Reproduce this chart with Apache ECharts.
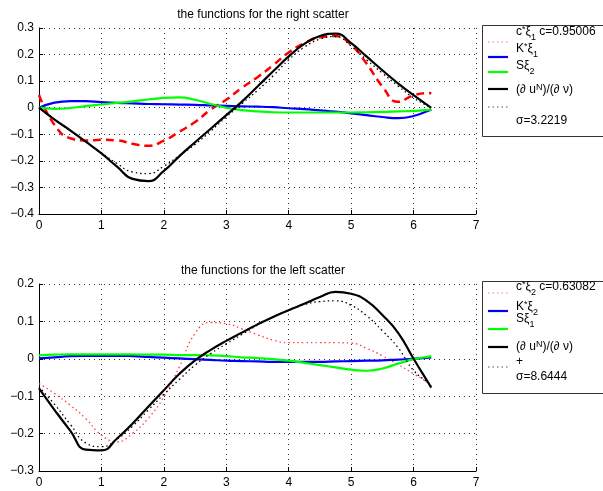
<!DOCTYPE html>
<html><head><meta charset="utf-8">
<script src="https://cdn.jsdelivr.net/npm/echarts@6/dist/echarts.min.js"></script>
<style>html,body{margin:0;padding:0;background:#fff}#c{width:603px;height:491px}</style>
</head><body><div id="c"></div>
<script>
const FF = 'Liberation Sans, Arial, Helvetica, sans-serif';
const xs = [0,0.25,0.5,0.75,1,1.25,1.5,1.75,2,2.25,2.5,2.75,3,3.25,3.5,3.75,4,4.25,4.5,4.75,5,5.25,5.5,5.75,6,6.25,6.2832];

// top panel: right scatter
const topRed    = [0.048,-0.065,-0.115,-0.123,-0.121,-0.123,-0.136,-0.143,-0.124,-0.09,-0.054,-0.007,0.03,0.075,0.115,0.16,0.208,0.243,0.265,0.27,0.236,0.165,0.08,0.022,0.047,0.055,0.053];
const topBlue   = [0,0.019,0.025,0.025,0.021,0.018,0.016,0.014,0.013,0.012,0.011,0.009,0.007,0.005,0.004,0.002,-0.002,-0.005,-0.01,-0.015,-0.021,-0.028,-0.035,-0.039,-0.031,-0.01,-0.006];
const topGreen  = [0,-0.004,-0.001,0.006,0.012,0.018,0.024,0.031,0.037,0.039,0.03,0.014,0,-0.009,-0.014,-0.017,-0.018,-0.018,-0.018,-0.018,-0.018,-0.017,-0.016,-0.014,-0.012,-0.008,-0.006];
const topBlack  = [0,-0.045,-0.085,-0.128,-0.172,-0.222,-0.268,-0.276,-0.238,-0.182,-0.13,-0.079,-0.028,0.023,0.08,0.137,0.193,0.24,0.27,0.279,0.243,0.192,0.141,0.092,0.047,0.005,0];
const topDotted = [0,-0.044,-0.086,-0.128,-0.17,-0.21,-0.242,-0.248,-0.22,-0.18,-0.138,-0.088,-0.035,0.015,0.065,0.12,0.18,0.228,0.258,0.268,0.232,0.18,0.13,0.082,0.037,0.003,0];

// bottom panel: left scatter
const botRed    = [-0.066,-0.093,-0.124,-0.16,-0.204,-0.222,-0.199,-0.159,-0.102,-0.021,0.068,0.097,0.094,0.08,0.064,0.05,0.043,0.043,0.043,0.043,0.042,0.028,0.008,-0.015,-0.04,-0.066,-0.072];
const botBlue   = [0.001,0.004,0.007,0.008,0.008,0.008,0.007,0.005,0.003,0.001,-0.001,-0.003,-0.005,-0.006,-0.007,-0.008,-0.008,-0.008,-0.008,-0.007,-0.006,-0.005,-0.004,-0.002,0,0.003,0.0035];
const botGreen  = [0.009,0.011,0.012,0.012,0.012,0.012,0.012,0.011,0.011,0.01,0.01,0.009,0.007,0.004,0.002,-0.001,-0.005,-0.011,-0.017,-0.023,-0.029,-0.032,-0.026,-0.013,-0.001,0.006,0.007];
const botBlack  = [-0.079,-0.137,-0.192,-0.243,-0.245,-0.213,-0.173,-0.128,-0.084,-0.04,-0.004,0.024,0.048,0.07,0.092,0.112,0.13,0.147,0.165,0.179,0.174,0.155,0.117,0.07,0,-0.068,-0.077];
const botDotted = [-0.075,-0.122,-0.175,-0.225,-0.235,-0.215,-0.18,-0.137,-0.095,-0.055,-0.017,0.014,0.04,0.065,0.09,0.112,0.13,0.145,0.153,0.155,0.143,0.115,0.075,0.03,-0.031,-0.066,-0.07];

const xTicks = {min:0, max:7, interval:1};
const topY = {min:-0.4, max:0.3, interval:0.1};
const botY = {min:-0.3, max:0.2, interval:0.1};

const titles = ['the functions for the right scatter','the functions for the left scatter'];

function pairs(ys){ return xs.map((x,i)=>[x, ys[i]]); }
function fmtY(v){ if (Math.abs(v) < 1e-9) return '0'; return v.toFixed(1).replace('-', '\u2212'); }

function xAx(gi){
  return {type:'value', gridIndex:gi, min:xTicks.min, max:xTicks.max, interval:xTicks.interval,
    axisLine:{show:true, onZero:false, lineStyle:{color:'#000', width:1}},
    axisTick:{show:true, inside:true, length:4, lineStyle:{color:'#000'}},
    axisLabel:{color:'#000', fontSize:12, fontFamily:FF, margin:6},
    splitLine:{show:true, lineStyle:{type:[1,4], color:'#333', width:1}}};
}
function yAx(gi, r){
  return {type:'value', gridIndex:gi, min:r.min, max:r.max, interval:r.interval,
    axisLine:{show:true, onZero:false, lineStyle:{color:'#000', width:1}},
    axisTick:{show:true, inside:true, length:4, lineStyle:{color:'#000'}},
    axisLabel:{color:'#000', fontSize:12, fontFamily:FF, margin:5, formatter:fmtY},
    splitLine:{show:true, lineStyle:{type:[1,4], color:'#333', width:1}}};
}
function ser(gi, ys, color, width, type){
  return {type:'line', xAxisIndex:gi, yAxisIndex:gi, data:pairs(ys), smooth:true, symbol:'none',
    silent:true, lineStyle:{color:color, width:width, type:type}};
}

const rich = {
  n:{fontSize:12, fontFamily:FF, color:'#000'},
  sub:{fontSize:9, fontFamily:FF, color:'#000', padding:[12,0,0,0]},
  sup:{fontSize:9, fontFamily:FF, color:'#000', padding:[0,0,4,0]}
};
function legendBox(y0, h, icons, texts){
  const els = [{type:'rect', shape:{x:482.5, y:y0+0.5, width:140, height:h}, style:{fill:'#fff', stroke:'#333', lineWidth:1}, z:10}];
  icons.forEach(ic=>{
    els.push({type:'line', shape:{x1:488, y1:ic.y, x2:508, y2:ic.y}, style:{stroke:ic.c, lineWidth:ic.w, lineDash:ic.d}, z:11});
  });
  texts.forEach(t=>{
    els.push({type:'text', x:516, y:t.y, style:{text:t.s, rich:rich, font:'12px '+FF, fill:'#000', verticalAlign:'middle', align:'left'}, z:11});
  });
  return els;
}

const graphics = [].concat(
  legendBox(25, 111,
    [{y:42, c:'#ff7070', w:1.2, d:[1.5,3]}, {y:57, c:'#0000ff', w:2.2, d:null}, {y:72, c:'#00ff00', w:2.2, d:null}, {y:89, c:'#000', w:2.2, d:null}, {y:107, c:'#555', w:1.2, d:[1.5,3]}],
    [{y:32, s:'{n|c}{sup|*}{n|\u03be}{sub|1}{n| c=0.95006}'}, {y:49, s:'{n|K}{sup|*}{n|\u03be}{sub|1}'}, {y:66, s:'{n|S\u03be}{sub|2}'}, {y:90, s:'{n|(\u2202 u}{sup|N}{n|)/(\u2202 \u03bd)}'}, {y:121, s:'{n|\u03c3=3.2219}'}]),
  legendBox(281, 112,
    [{y:293, c:'#ff7070', w:1.2, d:[1.5,3]}, {y:311, c:'#0000ff', w:2.2, d:null}, {y:329, c:'#00ff00', w:2.2, d:null}, {y:347, c:'#000', w:2.2, d:null}, {y:367, c:'#555', w:1.2, d:[1.5,3]}],
    [{y:287, s:'{n|c}{sup|*}{n|\u03be}{sub|2}{n| c=0.63082}'}, {y:307, s:'{n|K}{sup|*}{n|\u03be}{sub|2}'}, {y:319, s:'{n|S\u03be}{sub|1}'}, {y:347, s:'{n|(\u2202 u}{sup|N}{n|)/(\u2202 \u03bd)}'}, {y:362, s:'{n|+}'}, {y:377, s:'{n|\u03c3=8.6444}'}])
);

const chart = echarts.init(document.getElementById('c'), null, {renderer:'canvas'});
chart.setOption({
  animation:false,
  backgroundColor:'#fff',
  title: titles.map((t,i)=>({text:t, left:258, top: i===0 ? 4 : 260, textAlign:'center',
    textStyle:{fontSize:12, fontWeight:'normal', color:'#000', fontFamily:FF}})),
  grid:[{left:39, top:28, width:437, height:186}, {left:39, top:284, width:437, height:187}],
  xAxis:[xAx(0), xAx(1)],
  yAxis:[yAx(0, topY), yAx(1, botY)],
  series:[
    ser(0, topRed, '#ff0000', 2.5, [8,5]),
    ser(0, topBlue, '#0000ff', 2.2, 'solid'),
    ser(0, topGreen, '#00ff00', 2.2, 'solid'),
    ser(0, topBlack, '#000000', 2.2, 'solid'),
    ser(0, topDotted, '#000000', 1.3, [1.5,3]),
    ser(1, botRed, '#ff4040', 1.3, [1.5,3]),
    ser(1, botBlue, '#0000ff', 2.2, 'solid'),
    ser(1, botGreen, '#00ff00', 2.2, 'solid'),
    ser(1, botBlack, '#000000', 2.2, 'solid'),
    ser(1, botDotted, '#000000', 1.3, [1.5,3])
  ],
  graphic: graphics
});
</script></body></html>
